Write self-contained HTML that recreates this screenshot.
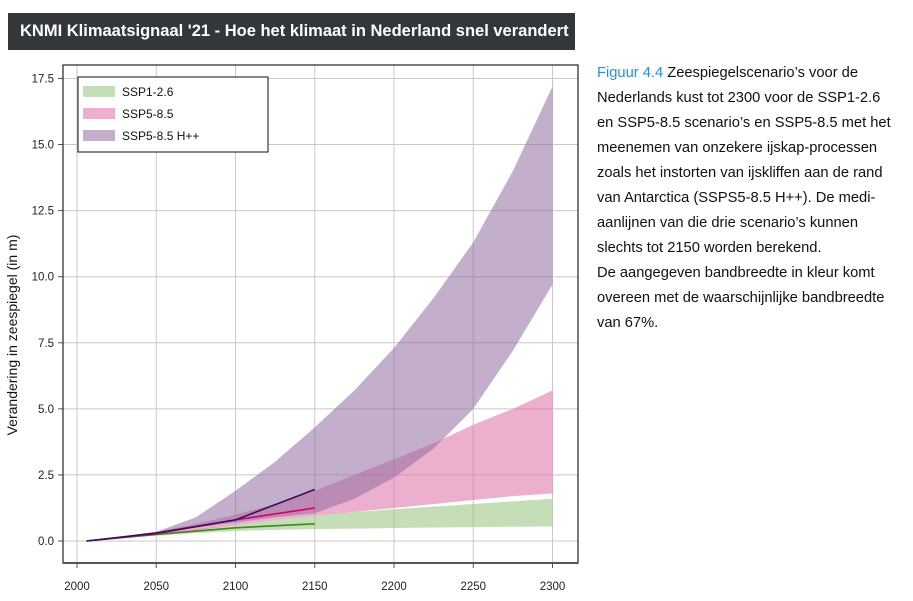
<!DOCTYPE html>
<html><head><meta charset="utf-8"><style>
body{margin:0;width:913px;height:601px;background:#fff;font-family:"Liberation Sans",sans-serif;overflow:hidden;position:relative}
#hdr{position:absolute;left:8px;top:13px;width:567px;height:37px;background:#33373a;color:#fff;font-weight:bold;font-size:16.5px;line-height:37px;padding-left:12px;box-sizing:border-box}
#cap{position:absolute;left:597px;top:61px;width:316px;font-size:14.7px;line-height:25px;color:#111;white-space:nowrap}
#cap .b{color:#2a8fd6}
svg{position:absolute;left:0;top:0}
</style></head><body>
<div id="hdr">KNMI Klimaatsignaal '21 - Hoe het klimaat in Nederland snel verandert</div>
<div id="cap"><span class="b">Figuur 4.4</span> Zeespiegelscenario’s voor de<br>Nederlands kust tot 2300 voor de SSP1-2.6<br>en SSP5-8.5 scenario’s en SSP5-8.5 met het<br>meenemen van onzekere ijskap-processen<br>zoals het instorten van ijskliffen aan de rand<br>van Antarctica (SSPS5-8.5 H++). De medi-<br>aanlijnen van die drie scenario’s kunnen<br>slechts tot 2150 worden berekend.<br>De aangegeven bandbreedte in kleur komt<br>overeen met de waarschijnlijke bandbreedte<br>van 67%.</div>
<svg id="chart" width="913" height="601"></svg>
<script>
const years=[2006,2025,2050,2075,2100,2125,2150,2175,2200,2225,2250,2275,2300];
const ssp1Low=[0,0.1,0.2,0.3,0.38,0.42,0.45,0.47,0.49,0.51,0.52,0.54,0.55];
const ssp1High=[0,0.14,0.28,0.45,0.6,0.8,0.95,1.1,1.2,1.3,1.4,1.5,1.6];
const ssp5Low=[0,0.12,0.25,0.4,0.6,0.8,0.95,1.1,1.25,1.4,1.55,1.7,1.8];
const ssp5High=[0,0.15,0.35,0.65,1.0,1.4,1.9,2.5,3.1,3.7,4.4,5.0,5.7];
const hppLow=[0,0.12,0.3,0.5,0.7,0.9,1.05,1.6,2.4,3.5,5.0,7.2,9.7];
const hppHigh=[0,0.15,0.35,0.9,1.9,3.0,4.3,5.7,7.3,9.2,11.3,14.0,17.2];
const medYears=[2006,2050,2100,2150];
const ssp1Med=[0,0.25,0.5,0.65];
const ssp5Med=[0,0.28,0.8,1.25];
const hppMed=[0,0.3,0.8,1.95];
const xTicks=[2000,2050,2100,2150,2200,2250,2300];
const yTicks=[0,2.5,5,7.5,10,12.5,15,17.5];
const legendLabels=["SSP1-2.6","SSP5-8.5","SSP5-8.5 H++"];

const svg=document.getElementById('chart');const NS='http://www.w3.org/2000/svg';
const X=v=>77+(v-2000)*(552.5-77)/300;
const Y=v=>541-v*26.43;
function mk(t,a,p){const e=document.createElementNS(NS,t);for(const k in a)e.setAttribute(k,a[k]);(p||svg).appendChild(e);return e;}
xTicks.forEach(t=>{const l=mk('line',{x1:X(t),x2:X(t),y1:65,y2:563,stroke:'#c8c8c8','stroke-width':1});


mk('line',{x1:X(t),x2:X(t),y1:563,y2:568,stroke:'#555'});
const tx=mk('text',{x:X(t),y:590,'text-anchor':'middle','font-size':'11.5',fill:'#222'});tx.textContent=t;

});
yTicks.forEach(t=>{const l=mk('line',{x1:63,x2:578,y1:Y(t),y2:Y(t),stroke:'#c8c8c8','stroke-width':1});


mk('line',{x1:58,x2:63,y1:Y(t),y2:Y(t),stroke:'#555'});
const tx=mk('text',{x:54,y:Y(t)+4,'text-anchor':'end','font-size':'11.5',fill:'#222'});tx.textContent=t.toFixed(1);

});
function band(lo,hi,fill,name){let d='M'+years.map((y,i)=>X(y)+','+Y(lo[i])).join('L');
for(let i=years.length-1;i>=0;i--)d+='L'+X(years[i])+','+Y(hi[i]);
const p=mk('path',{d:d+'Z',fill:fill});

}
band(ssp1Low,ssp1High,'rgba(150,195,125,0.55)','ssp1-band');
band(ssp5Low,ssp5High,'rgba(222,110,165,0.55)','ssp5-band');
band(hppLow,hppHigh,'rgba(145,110,160,0.55)','ssp5-hpp-band');
function line(v,c,name){const p=mk('polyline',{points:medYears.map((y,i)=>X(y)+','+Y(v[i])).join(' '),fill:'none',stroke:c,'stroke-width':1.6});

}
line(ssp1Med,'#3a8a1a','ssp1-median');
line(ssp5Med,'#d4006a','ssp5-median');
line(hppMed,'#3b0c5c','ssp5-hpp-median');
mk('rect',{x:63,y:65,width:515,height:498,fill:'none',stroke:'#222','stroke-width':1.2});
mk('line',{x1:63,x2:578,y1:563,y2:563,stroke:'#555','stroke-width':2});
const yl=mk('text',{x:0,y:0,transform:'translate(17,335) rotate(-90)','text-anchor':'middle','font-size':'14',fill:'#111'});yl.textContent='Verandering in zeespiegel (in m)';


const lg=mk('g',{});


mk('rect',{x:78,y:77,width:190,height:75,fill:'#fff',stroke:'#111','stroke-width':1},lg);
const lc=['rgba(150,195,125,0.55)','rgba(222,110,165,0.55)','rgba(145,110,160,0.55)'];
legendLabels.forEach((s,i)=>{mk('rect',{x:83,y:86+i*22,width:32,height:11,fill:lc[i]},lg);
const t=mk('text',{x:122,y:96+i*22,'font-size':'12',fill:'#111'},lg);t.textContent=s;

});
</script>
</body></html>
